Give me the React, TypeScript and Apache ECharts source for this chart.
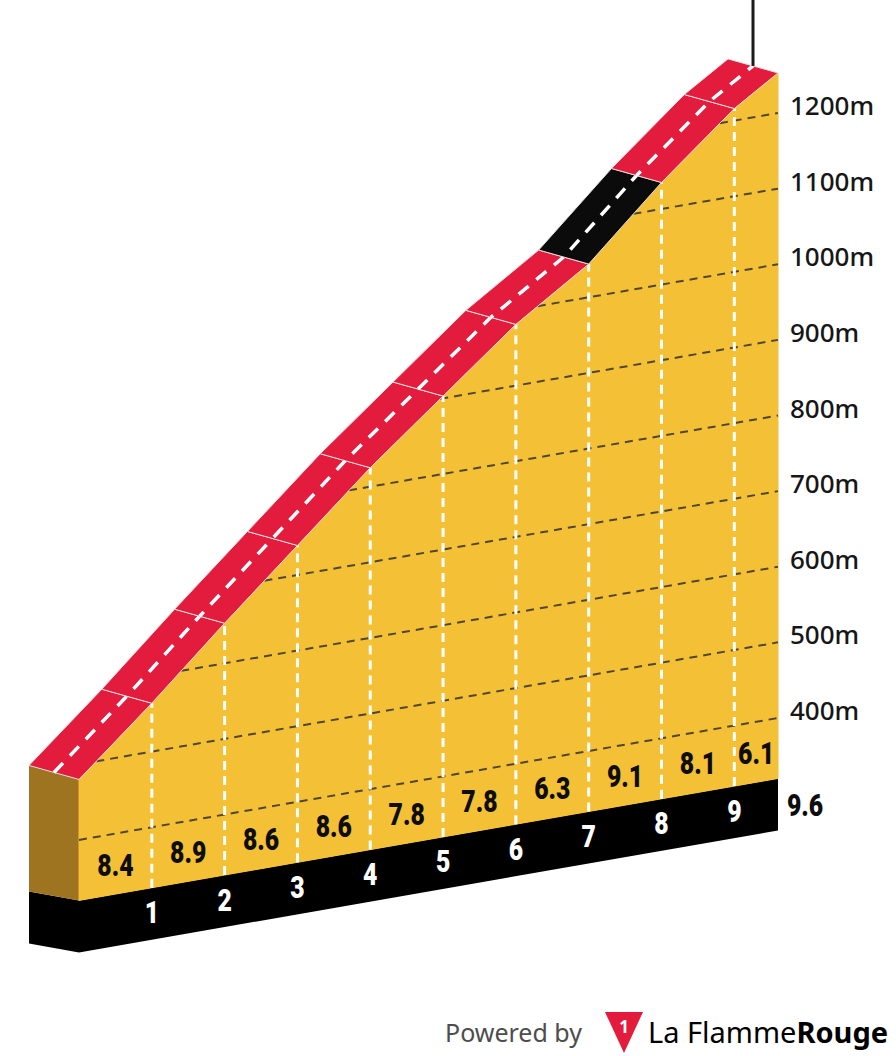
import { useEffect, useRef } from "react";
import * as echarts from "echarts";

// Climb profile: distance (km) and elevation (m) at each kilometre marker
const totalDistance = 9.6;
const profileKm = [0, 1, 2, 3, 4, 5, 6, 7, 8, 9, 9.6];
const profileElevation = [480, 564, 653, 739, 825, 903, 981, 1044, 1135, 1216, 1253];
const segmentGradients = [8.4, 8.9, 8.6, 8.6, 7.8, 7.8, 6.3, 9.1, 8.1, 6.1];
const kmMarkers = [1, 2, 3, 4, 5, 6, 7, 8, 9];
const elevationTicks = [400, 500, 600, 700, 800, 900, 1000, 1100, 1200];
const floorElevation = 320;
const steepGradient = 9;

// Oblique projection settings (apparent rise of the floor per km, road width, slab depth)
const SKEW = 16.8;
const ROAD_DX = -50;
const ROAD_DY = -14;
const BASE_DY = -9;
const SLAB_PX = 52;

const COLORS = {
  road: "#e31b3c",
  steep: "#0b0b0b",
  face: "#f4c136",
  side: "#9e7421",
  slab: "#000000",
  grid: "#4f4733",
  white: "#ffffff",
  ink: "#0d0d0d",
};
const BOLD_FONT = "900 31px Roboto, 'Liberation Sans', sans-serif";
const SANS = "'Noto Sans', 'Open Sans', sans-serif";
const CONDENSE = 0.8;

function elevationAt(d: number): number {
  for (let i = 0; i < profileKm.length - 1; i++) {
    const d0 = profileKm[i];
    const d1 = profileKm[i + 1];
    if (d >= d0 && d <= d1) {
      const t = (d - d0) / (d1 - d0);
      return profileElevation[i] + t * (profileElevation[i + 1] - profileElevation[i]);
    }
  }
  return profileElevation[profileElevation.length - 1];
}

function distanceAt(h: number): number {
  if (h <= profileElevation[0]) return 0;
  for (let i = 0; i < profileElevation.length - 1; i++) {
    const h0 = profileElevation[i];
    const h1 = profileElevation[i + 1];
    if (h >= h0 && h <= h1) {
      const t = (h - h0) / (h1 - h0);
      return profileKm[i] + t * (profileKm[i + 1] - profileKm[i]);
    }
  }
  return totalDistance;
}

// Front-plane point of the slab: distance along x, elevation skewed so the
// right-hand axis reads true elevation at the finish.
function front(api: any, d: number, h: number): number[] {
  return api.coord([d, h - SKEW * (totalDistance - d)]);
}
const shift = (p: number[], dx: number, dy: number) => [p[0] + dx, p[1] + dy];

// condensed heavy label centred on (x, y)
function boldLabel(text: string, x: number, y: number, fill: string, align = "center") {
  return {
    type: "text",
    x,
    y,
    scaleX: CONDENSE,
    style: { text, fill, font: BOLD_FONT, align, verticalAlign: "middle" },
  };
}

const segmentData = profileKm.slice(0, -1).map((d0, i) => [
  d0,
  profileKm[i + 1],
  profileElevation[i],
  profileElevation[i + 1],
  segmentGradients[i],
]);
const kmData = kmMarkers.map((d) => [d, elevationAt(d)]);
const gridData = elevationTicks.map((h) => [totalDistance, h]);

function buildOption(): any {
  return {
    animation: false,
    backgroundColor: "#ffffff",
    grid: { left: 79, right: 118, top: 37.4, bottom: 262.4 },
    xAxis: { type: "value", min: 0, max: totalDistance, show: false },
    yAxis: { type: "value", position: "right", min: 300, max: 1300, interval: 100, show: false },
    series: [
      {
        // base slab and left side of the profile
        type: "custom",
        clip: false,
        data: [[0, profileElevation[0]]],
        renderItem: (_p: any, api: any) => {
          const b0 = front(api, 0, floorElevation);
          const b1 = front(api, totalDistance, floorElevation);
          const t0 = front(api, 0, api.value(1));
          return {
            type: "group",
            children: [
              {
                type: "polygon",
                shape: { points: [b0, b1, shift(b1, 0, SLAB_PX), shift(b0, 0, SLAB_PX)] },
                style: { fill: COLORS.slab },
              },
              {
                type: "polygon",
                shape: {
                  points: [
                    shift(b0, ROAD_DX, BASE_DY),
                    b0,
                    shift(b0, 0, SLAB_PX),
                    shift(b0, ROAD_DX, BASE_DY + SLAB_PX),
                  ],
                },
                style: { fill: COLORS.slab },
              },
              {
                type: "polygon",
                shape: {
                  points: [shift(t0, ROAD_DX, ROAD_DY), t0, b0, shift(b0, ROAD_DX, BASE_DY)],
                },
                style: { fill: COLORS.side },
              },
            ],
          };
        },
      },
      {
        // front face of the climb, one panel per km
        type: "custom",
        clip: false,
        data: segmentData,
        renderItem: (_p: any, api: any) => {
          const d0 = api.value(0);
          const d1 = api.value(1);
          return {
            type: "polygon",
            shape: {
              points: [
                front(api, d0, floorElevation),
                front(api, d1, floorElevation),
                front(api, d1, api.value(3)),
                front(api, d0, api.value(2)),
              ],
            },
            style: { fill: COLORS.face, stroke: COLORS.face, lineWidth: 1 },
          };
        },
      },
      {
        // elevation guide lines on the face, cut off at the road, with their labels
        type: "custom",
        clip: false,
        data: gridData,
        renderItem: (_p: any, api: any) => {
          const h = api.value(1);
          const ds = distanceAt(h);
          const a = front(api, ds, h);
          const b = front(api, totalDistance, h);
          return {
            type: "group",
            children: [
              {
                type: "line",
                shape: { x1: a[0], y1: a[1], x2: b[0], y2: b[1] },
                style: { stroke: COLORS.grid, lineWidth: 2, lineDash: [8, 6] },
              },
              {
                type: "text",
                x: b[0] + 12,
                y: b[1] - 8,
                style: {
                  text: `${h}m`,
                  fill: "#161616",
                  font: `500 26px ${SANS}`,
                  align: "left",
                  verticalAlign: "middle",
                },
              },
            ],
          };
        },
      },
      {
        // kilometre markers and their numbers on the slab
        type: "custom",
        clip: false,
        data: kmData,
        renderItem: (_p: any, api: any) => {
          const d = api.value(0);
          const bottom = front(api, d, floorElevation);
          const top = front(api, d, api.value(1));
          return {
            type: "group",
            children: [
              {
                type: "line",
                shape: { x1: bottom[0], y1: bottom[1], x2: top[0], y2: top[1] },
                style: { stroke: COLORS.white, lineWidth: 3, lineDash: [9, 6] },
              },
              boldLabel(String(d), bottom[0], bottom[1] + 25, COLORS.white),
            ],
          };
        },
      },
      {
        // road ribbon with centre line
        type: "custom",
        clip: false,
        data: segmentData,
        renderItem: (params: any, api: any) => {
          const d0 = api.value(0);
          const d1 = api.value(1);
          const f0 = front(api, d0, api.value(2));
          const f1 = front(api, d1, api.value(3));
          const mid = (p: number[]) => shift(p, ROAD_DX / 2, ROAD_DY / 2);
          let offset = 0;
          for (let j = 0; j < params.dataIndex; j++) {
            const a = mid(front(api, profileKm[j], profileElevation[j]));
            const b = mid(front(api, profileKm[j + 1], profileElevation[j + 1]));
            offset += Math.hypot(b[0] - a[0], b[1] - a[1]);
          }
          const m0 = mid(f0);
          const m1 = mid(f1);
          return {
            type: "group",
            children: [
              {
                type: "polygon",
                shape: {
                  points: [f0, f1, shift(f1, ROAD_DX, ROAD_DY), shift(f0, ROAD_DX, ROAD_DY)],
                },
                style: {
                  fill: api.value(4) >= steepGradient ? COLORS.steep : COLORS.road,
                  stroke: "#e6dcdc",
                  lineWidth: 1,
                },
              },
              {
                type: "line",
                shape: { x1: m0[0], y1: m0[1], x2: m1[0], y2: m1[1] },
                style: {
                  stroke: COLORS.white,
                  lineWidth: 3.5,
                  lineDash: [13, 10],
                  lineDashOffset: offset,
                },
              },
            ],
          };
        },
      },
      {
        // gradient of each kilometre
        type: "custom",
        clip: false,
        data: segmentData,
        renderItem: (_p: any, api: any) => {
          const a = front(api, api.value(0), floorElevation);
          const b = front(api, api.value(1), floorElevation);
          return boldLabel(
            api.value(4).toFixed(1),
            (a[0] + b[0]) / 2,
            (a[1] + b[1]) / 2 - 29,
            COLORS.ink
          );
        },
      },
      {
        // finish: total distance and finish pole
        type: "custom",
        clip: false,
        data: [[totalDistance, profileElevation[profileElevation.length - 1]]],
        renderItem: (_p: any, api: any) => {
          const d = api.value(0);
          const b = front(api, d, floorElevation);
          const top = shift(front(api, d, api.value(1)), ROAD_DX / 2, ROAD_DY / 2);
          return {
            type: "group",
            children: [
              {
                type: "line",
                shape: { x1: top[0], y1: 0, x2: top[0], y2: top[1] },
                style: { stroke: "#1a1a1a", lineWidth: 3 },
              },
              boldLabel(String(d), b[0] + 9, b[1] + 27, COLORS.ink, "left"),
            ],
          };
        },
      },
    ],
    graphic: [
      {
        type: "text",
        x: 445,
        y: 1032,
        style: {
          text: "Powered by",
          fill: "#4d4d4d",
          font: `25px ${SANS}`,
          verticalAlign: "middle",
        },
      },
      {
        type: "polygon",
        shape: { points: [[605, 1012], [643, 1012], [624, 1053]] },
        style: { fill: COLORS.road },
      },
      {
        type: "text",
        x: 624,
        y: 1026,
        style: {
          text: "1",
          fill: "#ffffff",
          font: `bold 17px ${SANS}`,
          align: "center",
          verticalAlign: "middle",
        },
      },
      {
        type: "text",
        x: 648,
        y: 1031,
        style: {
          text: "{a|La Flamme}{b|Rouge}",
          verticalAlign: "middle",
          rich: {
            a: { fontSize: 29, fontFamily: SANS, color: "#222222" },
            b: { fontSize: 29, fontFamily: SANS, fontWeight: "bold", color: "#111111" },
          },
        },
      },
    ],
  };
}

export default function App() {
  const ref = useRef<HTMLDivElement>(null);
  useEffect(() => {
    if (!ref.current) return;
    const chart = echarts.init(ref.current, null, { renderer: "svg" });
    chart.setOption(buildOption());
    return () => chart.dispose();
  }, []);
  return (
    <div
      ref={ref}
      style={{ position: "absolute", left: 0, top: 0, width: 896, height: 1056, background: "#fff" }}
    />
  );
}
